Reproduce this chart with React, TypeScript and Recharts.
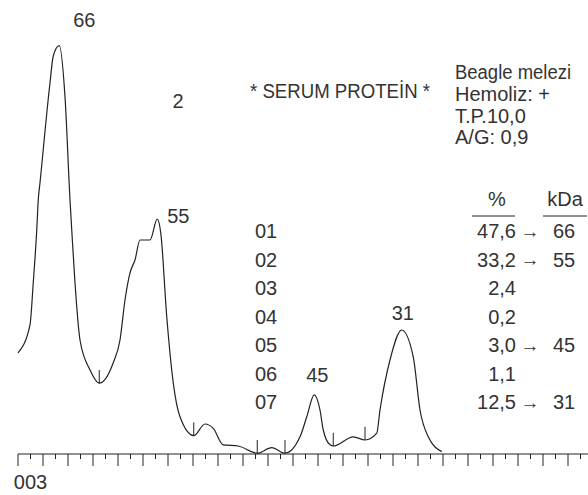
import { LineChart, Line, XAxis, YAxis, ReferenceLine, ReferenceDot } from 'recharts';

// densitometry scan: x = position (ruler units), y = optical density
const scanX = [0, 0.48, 0.61, 0.75, 0.81, 0.88, 1.28, 1.41, 1.65, 1.88, 2.08, 2.15, 2.28, 2.48, 2.88, 3.25, 3.81, 4.08, 4.28, 4.48, 4.68, 4.88, 5.28, 5.57, 5.71, 5.95, 6.21, 6.48, 7.03, 7.48, 7.81, 8.21, 8.81, 9.57, 10.15, 10.68, 11.28, 11.55, 11.85, 12.08, 12.21, 12.48, 12.61, 13.41, 13.88, 14.35, 14.48, 14.88, 15.35, 15.81, 16.08, 16.41, 16.95];
const scanY = [25.3, 32.3, 42.8, 56, 63.5, 67.8, 92.8, 99.5, 102.1, 89.3, 63.5, 56, 42.8, 28.5, 21, 17.7, 22.8, 28.5, 38.5, 45.3, 48.5, 53.5, 53.5, 58.7, 55.3, 34.3, 17.8, 9.3, 4.6, 7.5, 6.4, 2.3, 2, 0.2, 1.6, 0.2, 4.3, 9.3, 14.8, 11, 6, 2.3, 2, 4.3, 3.5, 5.2, 11, 23.5, 31, 24.3, 11, 4.3, 0.6];

// fraction boundaries (valley markers)
const valleyX = [3.25, 7.03, 9.57, 10.68, 12.61, 13.88];
const valleyY = [17.7, 4.6, 0.2, 0.2, 2, 3.5];

// labelled peaks
const peakX = [1.65, 5.57, 11.85, 15.35];
const peakY = [102.1, 58.7, 14.8, 31];
const peakLabel = ['66', '55', '45', '31'];

// result table
const fractions = ['01', '02', '03', '04', '05', '06', '07'];
const percents = ['47,6', '33,2', '2,4', '0,2', '3,0', '1,1', '12,5'];
const kda = ['66', '55', '', '', '45', '', '31'];
const sampleInfo = ['Beagle melezi', 'Hemoliz: +', 'T.P.10,0', 'A/G: 0,9'];

const rulerTicks = Array.from({ length: 46 }, (_, i) => i / 2);

const data = scanX.map((x, i) => ({ x, y: scanY[i] }));

const FONT = '"Liberation Sans", Arial, sans-serif';
const FS = 20;
const INK = '#333';
const LINE = '#222';

// label offsets relative to each peak, in px
const peakOffsets = [[25, -26], [21, -3], [3, -20], [1, -17]];

function RulerTick({ x, y, payload, index }: any) {
    const major = Number.isInteger(payload.value);
    return (
        <g>
            <line x1={x} x2={x} y1={y} y2={y + (major ? 12 : 5)} stroke={LINE} strokeWidth={1} />
            {index === 0 && (
                <text x={x + 12.5} y={y + 28} textAnchor="middle" dominantBaseline="central" fontFamily={FONT} fontSize={FS} fill={INK}>
                    003
                </text>
            )}
        </g>
    );
}

export default function App() {
    return (
        <div style={{ position: 'absolute', left: 0, top: 0, width: 588, height: 495, background: '#fff' }}>
            <LineChart width={588} height={495} data={data} margin={{ top: 34, right: 0, bottom: 0, left: 18 }}>
                <XAxis
                    dataKey="x"
                    type="number"
                    domain={[0, 22.8]}
                    ticks={rulerTicks}
                    interval={0}
                    height={41}
                    tickSize={0}
                    tickMargin={0}
                    tick={<RulerTick />}
                    axisLine={{ stroke: LINE, strokeWidth: 1 }}
                />
                <YAxis hide domain={[0, 105]} />
                <Line type="monotone" dataKey="y" stroke={LINE} strokeWidth={1.2} dot={false} isAnimationActive={false} />
                {valleyX.map((vx, i) => (
                    <ReferenceLine
                        key={'v' + i}
                        segment={[{ x: vx, y: valleyY[i] }, { x: vx, y: valleyY[i] + 3.3 }]}
                        stroke={LINE}
                        strokeWidth={1}
                    />
                ))}
                {peakX.map((px, i) => (
                    <ReferenceDot
                        key={'p' + i}
                        x={px}
                        y={peakY[i]}
                        r={0}
                        shape={(p: any) => (
                            <text
                                x={p.cx + peakOffsets[i][0]}
                                y={p.cy + peakOffsets[i][1]}
                                textAnchor="middle"
                                dominantBaseline="central"
                                fontFamily={FONT}
                                fontSize={FS}
                                fill={INK}
                            >
                                {peakLabel[i]}
                            </text>
                        )}
                    />
                ))}
            </LineChart>

            {/* header + table */}
            <svg width={588} height={495} style={{ position: 'absolute', left: 0, top: 0, pointerEvents: 'none' }}
                fontFamily={FONT} fontSize={FS} fill={INK}>
                <text x={178} y={101} textAnchor="middle" dominantBaseline="central">2</text>
                <text x={250} y={91} dominantBaseline="central" textLength={180} lengthAdjust="spacingAndGlyphs">* SERUM PROTEİN *</text>
                {sampleInfo.map((s, i) => (
                    <text key={s} x={455} y={72 + i * 21.8} dominantBaseline="central"
                        textLength={i === 0 ? 116 : undefined} lengthAdjust="spacingAndGlyphs">{s}</text>
                ))}
                <text x={497} y={199} textAnchor="middle" dominantBaseline="central">%</text>
                <text x={565} y={199} textAnchor="middle" dominantBaseline="central">kDa</text>
                <line x1={472} x2={515} y1={216} y2={216} stroke={LINE} />
                <line x1={543} x2={587} y1={216} y2={216} stroke={LINE} />
                {fractions.map((f, i) => {
                    const y = 231 + i * 28.5;
                    return (
                        <g key={f}>
                            <text x={255} y={y} dominantBaseline="central">{f}</text>
                            <text x={516} y={y} textAnchor="end" dominantBaseline="central">{percents[i]}</text>
                            {kda[i] && (
                                <>
                                    <text x={530} y={y} textAnchor="middle" dominantBaseline="central" fontSize={19}>→</text>
                                    <text x={564} y={y} textAnchor="middle" dominantBaseline="central">{kda[i]}</text>
                                </>
                            )}
                        </g>
                    );
                })}
            </svg>
        </div>
    );
}
